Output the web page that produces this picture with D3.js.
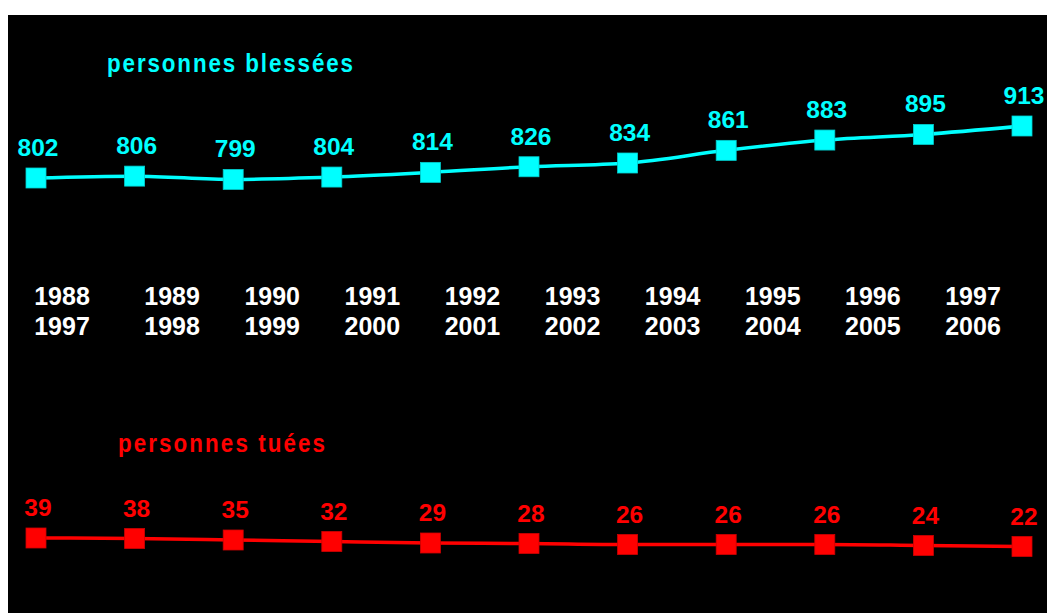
<!DOCTYPE html>
<html>
<head>
<meta charset="utf-8">
<script src="https://cdn.jsdelivr.net/npm/d3@7"></script>
<style>
  html, body { margin: 0; padding: 0; background: #ffffff; }
  svg { display: block; }
  text { font-family: "Liberation Sans", Arial, sans-serif; font-weight: bold; }
</style>
</head>
<body>
<svg id="chart" width="1047" height="613"></svg>
<script>
// ---- data ----
const periodStart = ["1988", "1989", "1990", "1991", "1992", "1993", "1994", "1995", "1996", "1997"];
const periodEnd   = ["1997", "1998", "1999", "2000", "2001", "2002", "2003", "2004", "2005", "2006"];
const pointIndex  = [0, 1, 2, 3, 4, 5, 6, 7, 8, 9, 10];
const injured     = [802, 806, 799, 804, 814, 826, 834, 861, 883, 895, 913];
const killed      = [39, 38, 35, 32, 29, 28, 26, 26, 26, 24, 22];
const titleInjured = "personnes blessées";
const titleKilled  = "personnes tuées";

const cyan = "#00FFFF";
const red = "#FF0000";

const svg = d3.select("#chart");
const W = 1047, H = 613;

// black panel
svg.append("rect").attr("x", 8).attr("y", 15).attr("width", W - 8).attr("height", H - 15).attr("fill", "#000");

// scales
const x = d3.scalePoint().domain(pointIndex).range([36, 1022]);
const yInj = d3.scaleLinear().domain([802, 913]).range([178, 126]);
const yKil = d3.scaleLinear().domain([22, 39]).range([546.5, 538]);
const labelX = d3.scalePoint().domain(periodStart).range([72, 973]);

const squeeze = 0.86;

function drawSeries(values, y, color, title, titleX, titleY, titleLen) {
  const g = svg.append("g");
  const line = d3.line()
    .x((d, i) => x(pointIndex[i]))
    .y(d => y(d))
    .curve(d3.curveMonotoneX);
  g.append("path").datum(values)
    .attr("d", line)
    .attr("fill", "none")
    .attr("stroke", color)
    .attr("stroke-width", 3.5);
  g.selectAll("rect.m").data(values).join("rect")
    .attr("class", "m")
    .attr("x", (d, i) => x(pointIndex[i]) - 10)
    .attr("y", d => y(d) - 10)
    .attr("width", 20).attr("height", 20)
    .attr("fill", color)
    .attr("stroke", d3.color(color).darker(0.6))
    .attr("stroke-width", 0.8);
  g.selectAll("text.v").data(values).join("text")
    .attr("class", "v")
    .attr("x", (d, i) => x(pointIndex[i]) + 2)
    .attr("y", d => y(d) - 22)
    .attr("text-anchor", "middle")
    .attr("fill", color)
    .attr("font-size", 24.5)
    .text(d => d);
  g.append("g")
    .attr("transform", `translate(${titleX},${titleY}) scale(${squeeze},1)`)
    .append("text")
    .attr("x", 0).attr("y", 0)
    .attr("fill", color)
    .attr("font-size", 26)
    .attr("textLength", titleLen / squeeze)
    .attr("lengthAdjust", "spacing")
    .text(title);
}

drawSeries(injured, yInj, cyan, titleInjured, 107, 72, 246);
drawSeries(killed, yKil, red, titleKilled, 118, 452, 207);

// period labels
const lab = svg.append("g");
lab.selectAll("text.s").data(periodStart).join("text")
  .attr("class", "s")
  .attr("x", d => labelX(d))
  .attr("dx", (d, i) => i === 0 ? -10 : 0)
  .attr("y", 305)
  .attr("text-anchor", "middle")
  .attr("fill", "#fff")
  .attr("font-size", 25)
  .text(d => d);
lab.selectAll("text.e").data(periodEnd).join("text")
  .attr("class", "e")
  .attr("x", (d, i) => labelX(periodStart[i]))
  .attr("dx", (d, i) => i === 0 ? -10 : 0)
  .attr("y", 335)
  .attr("text-anchor", "middle")
  .attr("fill", "#fff")
  .attr("font-size", 25)
  .text(d => d);
</script>
</body>
</html>
